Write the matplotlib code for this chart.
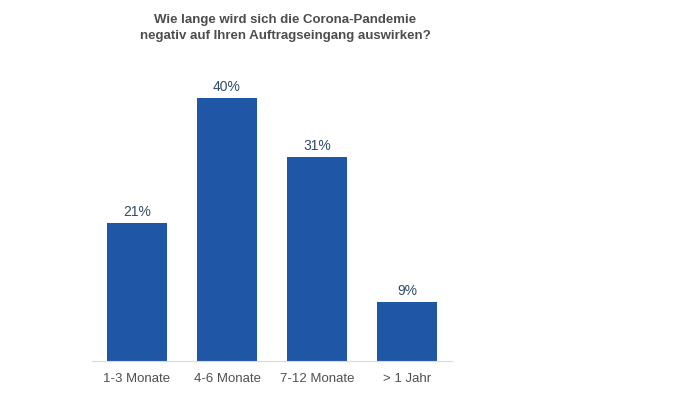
import matplotlib.pyplot as plt

categories = ['1-3 Monate', '4-6 Monate', '7-12 Monate', '> 1 Jahr']
values = [21, 40, 31, 9]
value_labels = ['21%', '40%', '31%', '9%']

plt.rcParams['font.family'] = ['Liberation Sans', 'DejaVu Sans']

fig = plt.figure(figsize=(6.95, 3.95), dpi=100)
ax = fig.add_axes([0.1324, 0.0861, 0.518, 0.7494])

x = range(len(categories))
bars = ax.bar(x, values, width=0.667, color='#1f56a5')

for bar, lab in zip(bars, value_labels):
    ax.annotate(lab, (bar.get_x() + bar.get_width() / 2, bar.get_height()),
                xytext=(0, 3), textcoords='offset points',
                ha='center', va='bottom', fontsize=10, color='#2f4a6a')

ax.set_xlim(-0.5, 3.5)
ax.set_ylim(0, 45)
ax.set_xticks(list(x))
ax.set_xticklabels(categories, fontsize=9.5, color='#505050')
ax.tick_params(axis='x', length=0, pad=9)
ax.set_yticks([])
for side in ['top', 'right', 'left']:
    ax.spines[side].set_visible(False)
ax.spines['bottom'].set_color('#d9d9d9')

fig.text(0.41, 0.965, 'Wie lange wird sich die Corona-Pandemie\nnegativ auf Ihren Auftragseingang auswirken?',
         ha='center', va='top', fontsize=9.5, fontweight='bold', color='#4d4d4d',
         linespacing=1.45)

fig.savefig('out.png', dpi=100)
